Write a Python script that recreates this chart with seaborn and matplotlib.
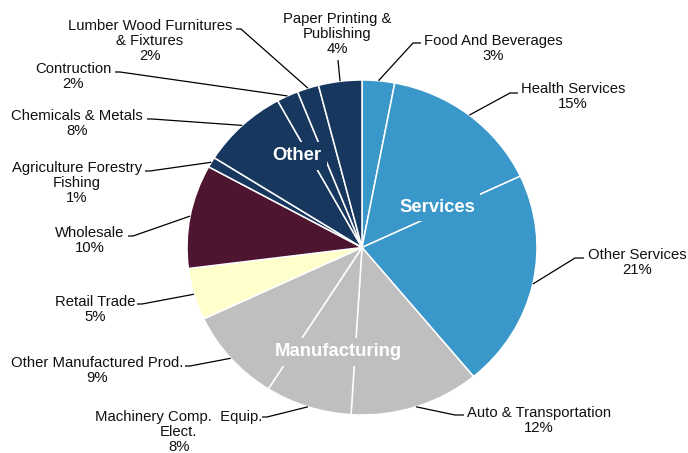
import numpy as np
import pandas as pd
import matplotlib
matplotlib.use("Agg")
import matplotlib.pyplot as plt
import seaborn as sns

# ---------------- data ----------------
categories = ["Food And Beverages", "Health Services", "Other Services",
              "Auto & Transportation", "Machinery Comp.  Equip.\nElect.",
              "Other Manufactured Prod.", "Retail Trade", "Wholesale",
              "Agriculture Forestry\nFishing", "Chemicals & Metals",
              "Contruction", "Lumber Wood Furnitures\n& Fixtures",
              "Paper Printing &\nPublishing"]
shares = [3, 15, 21, 12, 8, 9, 5, 10, 1, 8, 2, 2, 4]
groups = ["Services", "Services", "Services",
          "Manufacturing", "Manufacturing", "Manufacturing",
          "Retail", "Wholesale",
          "Other", "Other", "Other", "Other", "Other"]
group_labels = ["Services", "Manufacturing", "Other"]

# ---------------- styles ----------------
group_colors = {"Services": "#3A97C9", "Manufacturing": "#BFBFBF",
                "Retail": "#FFFFCC", "Wholesale": "#4E1530", "Other": "#17375E"}

# label layout in pixels: text centre, elbow point, end x of horizontal leader
label_layout = [
    ((493, 48.5), (413, 43), 421),
    ((573, 96.5), (510, 93), 518),
    ((637, 262.5), (575, 258), 584),
    ((539, 420.5), (455, 415), 464),
    ((179, 432), (267, 417), 262),
    ((97, 370.5), (190, 366), 185),
    ((95, 309.5), (142, 304), 137),
    ((90, 240.5), (133, 236), 128),
    ((77, 183), (150, 171), 145),
    ((77, 123.5), (152, 119), 147),
    ((73, 76.5), (120, 72), 115),
    ((150, 41), (241, 29), 236),
    ((337, 34), (338, 60), 338),
]
group_label_pos = {"Services": (437, 207), "Manufacturing": (338, 352), "Other": (297, 156)}

sns.set_theme(style="white")
plt.rcParams["font.family"] = ["Liberation Sans", "DejaVu Sans"]

W, H = 688, 453
CX, CY, RX, RY = 362, 247.5, 175, 167.5

fig = plt.figure(figsize=(W / 100, H / 100), dpi=100)
fig.patch.set_facecolor("white")
ax = fig.add_axes([(CX - RX) / W, (H - (CY + RY)) / H, 2 * RX / W, 2 * RY / H])

df = pd.DataFrame({"category": categories, "share": shares, "group": groups})
colors = [group_colors[g] for g in df["group"]]
wedges, _ = ax.pie(df["share"], colors=colors, startangle=90, counterclock=False,
                   radius=1, wedgeprops=dict(edgecolor="white", linewidth=1.1))
ax.set_aspect("auto")
ax.set_xlim(-1, 1)
ax.set_ylim(-1, 1)
ax.axis("off")


def px(x, y):
    return (x - CX) / RX, (CY - y) / RY


for w, cat, val, (tc, el, hx) in zip(wedges, df["category"], df["share"], label_layout):
    mid = np.deg2rad((w.theta1 + w.theta2) / 2)
    sx, sy = np.cos(mid), np.sin(mid)
    ex, ey = px(*el)
    hxx, _ = px(hx, el[1])
    ax.plot([sx, ex, hxx], [sy, ey, ey], color="black", lw=0.9, clip_on=False,
            solid_capstyle="butt")
    tx, ty = px(*tc)
    ax.text(tx, ty, f"{cat}\n{val}%", ha="center", va="center", fontsize=10.7,
            linespacing=1.1, color="#111111", clip_on=False)

for g in group_labels:
    gx, gy = px(*group_label_pos[g])
    ax.text(gx, gy, g, ha="center", va="center", fontsize=13.3, fontweight="bold",
            color="white", zorder=5,
            bbox=dict(facecolor=group_colors[g], edgecolor="none", pad=4))

fig.savefig("out.png", dpi=100, facecolor="white")
